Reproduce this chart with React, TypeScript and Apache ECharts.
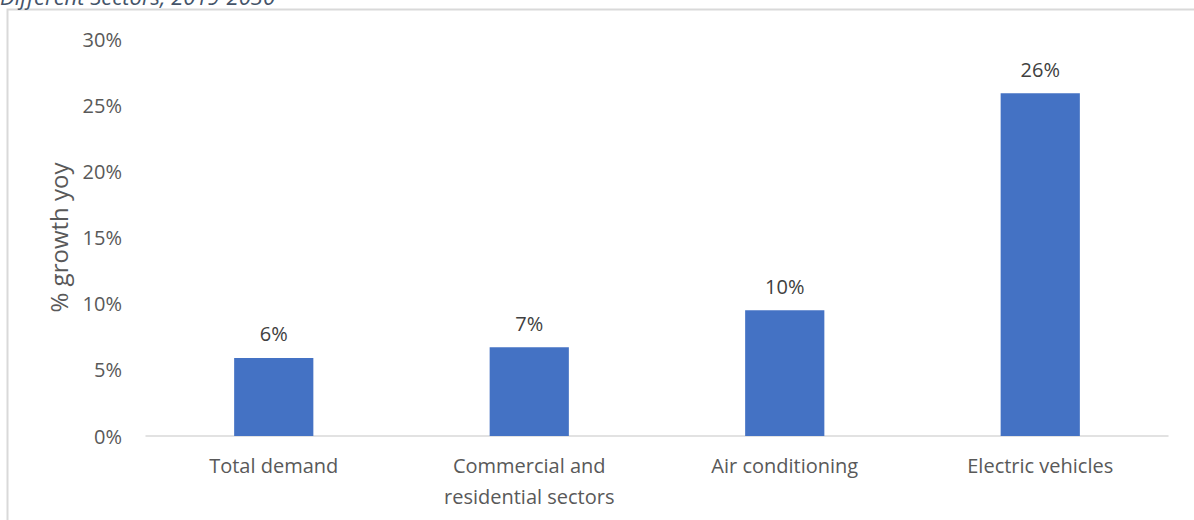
import React, { useEffect, useRef } from "react";
import * as echarts from "echarts";

const categories = ["Total demand", "Commercial and\nresidential sectors", "Air conditioning", "Electric vehicles"];
const growthValues = [5.9, 6.7, 9.5, 25.9];
const yTicks = [0, 5, 10, 15, 20, 25, 30];
const titleText = "Different Sectors, 2019-2030";
const yAxisName = "% growth yoy";

const FONT = "'Open Sans', 'Noto Sans', sans-serif";

export default function App() {
  const ref = useRef<HTMLDivElement>(null);
  useEffect(() => {
    document.body.style.margin = "0";
    const chart = echarts.init(ref.current!, null, { renderer: "svg" });
    chart.setOption({
      animation: false,
      backgroundColor: "#ffffff",
      textStyle: { fontFamily: FONT },
      graphic: [
        {
          type: "rect",
          shape: { x: 7.5, y: 9.5, width: 1200, height: 520 },
          style: { fill: "none", stroke: "#d9d9d9", lineWidth: 2 },
          silent: true,
        },
        {
          type: "text",
          x: 0,
          y: 7,
          style: {
            text: titleText,
            fill: "#44546A",
            font: `italic 22px ${FONT}`,
            verticalAlign: "bottom",
          },
        },
      ],
      grid: { left: 146, right: 26, top: 39, bottom: 84 },
      xAxis: {
        type: "category",
        data: categories,
        axisTick: { show: false },
        axisLine: { lineStyle: { color: "#d9d9d9", width: 1.5 } },
        axisLabel: { color: "#595959", fontSize: 20, margin: 14, lineHeight: 31, fontFamily: FONT },
      },
      yAxis: {
        type: "value",
        min: yTicks[0],
        max: yTicks[yTicks.length - 1],
        interval: 5,
        name: yAxisName,
        nameLocation: "middle",
        nameGap: 76,
        nameTextStyle: { color: "#595959", fontSize: 24, fontFamily: FONT },
        splitLine: { show: false },
        axisLine: { show: false },
        axisTick: { show: false },
        axisLabel: { color: "#595959", fontSize: 20, margin: 24, formatter: (v: number) => `${v}%`, fontFamily: FONT },
      },
      series: [
        {
          type: "bar",
          data: growthValues,
          barWidth: "31%",
          itemStyle: { color: "#4472C4" },
          label: {
            show: true,
            position: "top",
            distance: 14,
            color: "#404040",
            fontSize: 20,
            fontFamily: FONT,
            formatter: (p: any) => `${Math.round(p.value)}%`,
          },
        },
      ],
    });
    return () => chart.dispose();
  }, []);
  return <div ref={ref} style={{ position: "fixed", left: 0, top: 0, width: 1194, height: 520 }} />;
}
